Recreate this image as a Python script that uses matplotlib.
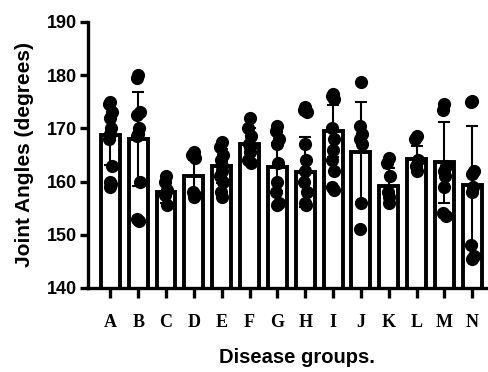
import matplotlib
matplotlib.use("Agg")
import matplotlib.pyplot as plt
import numpy as np

groups = ["A", "B", "C", "D", "E", "F", "G", "H", "I", "J", "K", "L", "M", "N"]
means = [168.7, 168.0, 158.0, 161.0, 163.0, 167.0, 162.7, 161.8, 169.5, 165.5, 159.1, 164.2, 163.6, 159.3]
sds = [5.5, 8.8, 2.0, 3.0, 3.2, 3.0, 4.5, 6.5, 4.8, 9.4, 3.4, 2.4, 7.6, 11.1]

points = [
  [175, 174.5, 173, 172, 170, 169, 168, 163, 160, 159.5, 159],
  [180, 179.5, 173, 172.5, 170, 169, 168.5, 160, 153, 152.5],
  [161, 160, 158.5, 157.5, 155.5],
  [165.5, 165, 164.5, 158, 157.5, 157],
  [167.5, 166.5, 165, 164, 163, 162, 161, 160, 158, 157],
  [172, 170, 168.5, 167, 166.5, 165.5, 164, 163.5],
  [170.5, 169.5, 168, 167, 163.5, 160, 158, 156, 155.5],
  [174, 173.5, 173, 167, 164, 162, 160, 158, 156, 155.5],
  [176.5, 176, 175.5, 170, 168, 166, 164, 162, 159, 158.5],
  [178.8, 170.5, 169, 168, 167, 156, 151],
  [164.5, 163.5, 161, 158, 157, 156],
  [168.5, 168, 164, 163, 162],
  [174.5, 173.5, 163, 162, 161, 159, 154, 153.5],
  [175.2, 175, 162, 161.5, 159, 158, 148, 146, 145.5],
]

fig = plt.figure(figsize=(4.89, 3.72), dpi=100)
ax = fig.add_axes([0.18, 0.226, 0.82, 0.715])

x = np.arange(len(groups))
ax.bar(x, means, width=0.68, color="white", edgecolor="black", linewidth=2.8, zorder=2)
ax.errorbar(x, means, yerr=sds, fmt="none", ecolor="black", elinewidth=1.5, capsize=4, capthick=1.5, zorder=3)

# small fixed horizontal spread so dots don't sit exactly on top of each other
offsets = [0.0, -0.05, 0.05, -0.025, 0.025]
for i, vals in enumerate(points):
  xs = [x[i] + offsets[j % len(offsets)] for j in range(len(vals))]
  ax.scatter(xs, vals, s=90, color="black", zorder=4, linewidths=0)

ax.set_ylim(140, 190)
ax.set_xlim(-0.8, 13.6)
ax.set_yticks([140, 150, 160, 170, 180, 190])
ax.set_xticks(x)
ax.set_xticklabels(groups, fontfamily="Liberation Serif", fontweight="bold", fontsize=13)
for lbl in ax.get_yticklabels():
  lbl.set_fontfamily("Liberation Sans")
  lbl.set_fontweight("bold")
  lbl.set_fontsize(13)

for s in ["top", "right"]:
  ax.spines[s].set_visible(False)
for s in ["left", "bottom"]:
  ax.spines[s].set_linewidth(2.4)
ax.tick_params(axis="y", length=6, width=2.4, pad=2)
ax.tick_params(axis="x", length=7, width=2.4, pad=12)

ax.set_ylabel("Joint Angles (degrees)", fontfamily="Liberation Sans", fontweight="bold", fontsize=15)
ax.yaxis.set_label_coords(-0.135, 0.5)
ax.set_xlabel("Disease groups.", fontfamily="Liberation Sans", fontweight="bold", fontsize=14.5)
ax.xaxis.set_label_coords(0.52, -0.225)

fig.savefig("out.png", dpi=100)
